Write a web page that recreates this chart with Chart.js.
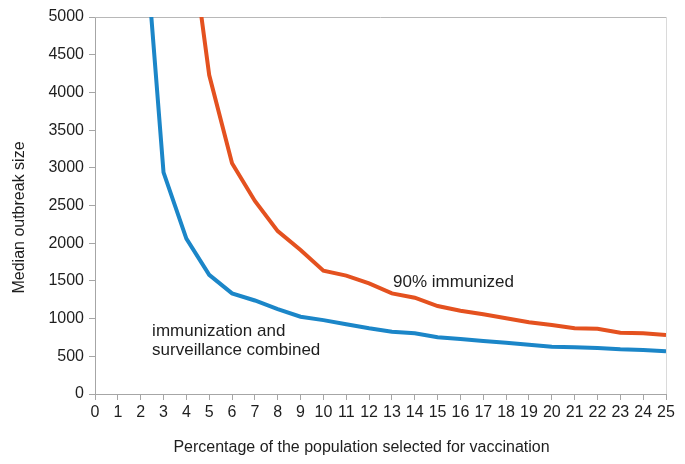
<!DOCTYPE html>
<html>
<head>
<meta charset="utf-8">
<script src="https://cdn.jsdelivr.net/npm/chart.js@4/dist/chart.umd.min.js"></script>
<style>
  html, body { margin: 0; padding: 0; background: #fff; }
  #wrap { width: 685px; height: 464px; }
</style>
</head>
<body>
<div id="wrap"><canvas id="outbreakChart"></canvas></div>
<script>
// Percentage of population selected (x categories)
const pctLabels = ['0','1','2','3','4','5','6','7','8','9','10','11','12','13','14','15','16','17','18','19','20','21','22','23','24','25'];

// Median outbreak size, immunization + surveillance (blue)
const combinedValues = [null, null, 6800, 2940, 2060, 1580, 1335, 1240, 1125, 1025, 980, 925, 871, 826, 805, 752, 729, 703, 680, 654, 627, 619, 610, 593, 584, 566];

// Median outbreak size, 90% immunized (orange)
const immunizedValues = [null, null, null, null, 6500, 4230, 3060, 2560, 2160, 1910, 1636, 1570, 1468, 1335, 1277, 1167, 1105, 1057, 1004, 951, 915, 871, 866, 813, 805, 782];

// Y axis range
const yMin = 0;
const yMax = 5000;
const yStep = 500;

// In-plot labels: [text, x category, y value]
const lineLabels = [
  ['90% immunized', 13.05, 1485],
  ['immunization and', 2.5, 835],
  ['surveillance combined', 2.5, 575]
];

const xTitle = 'Percentage of the population selected for vaccination';
const yTitle = 'Median outbreak size';

const axisGray = '#a6a6a6';
const textColor = '#1e1e1e';
const fontFamily = "'Liberation Sans', Arial, sans-serif";

// Draw the top / right frame of the plot area
const framePlugin = {
  id: 'frame',
  beforeDatasetsDraw(chart) {
    const a = chart.chartArea;
    const c = chart.ctx;
    c.save();
    c.lineWidth = 1;
    c.strokeStyle = '#b8b8b8';
    c.beginPath();
    c.moveTo(a.left, a.top + 0.5);
    c.lineTo(a.right, a.top + 0.5);
    c.stroke();
    c.strokeStyle = '#dadada';
    c.beginPath();
    c.moveTo(a.right + 0.5, a.top);
    c.lineTo(a.right + 0.5, a.bottom);
    c.stroke();
    c.restore();
  }
};

// Text annotations placed through the scales, plus axis titles
const labelPlugin = {
  id: 'lineLabels',
  afterDatasetsDraw(chart) {
    const c = chart.ctx;
    const xs = chart.scales.x;
    const ys = chart.scales.y;
    const a = chart.chartArea;
    c.save();
    c.fillStyle = textColor;
    c.font = '17px ' + fontFamily;
    c.textAlign = 'left';
    c.textBaseline = 'middle';
    lineLabels.forEach(function(l) {
      const i = Math.floor(l[1]);
      const x0 = xs.getPixelForValue(i);
      const x1 = xs.getPixelForValue(i + 1);
      const px = x0 + (x1 - x0) * (l[1] - i);
      c.fillText(l[0], px, ys.getPixelForValue(l[2]));
    });

    // axis titles (Excel places them a little off the plot centre)
    c.font = '16px ' + fontFamily;
    c.textAlign = 'center';
    c.fillText(xTitle, (a.left + a.right) / 2 - 19, chart.height - 16);
    c.translate(20, (a.top + a.bottom) / 2 + 12);
    c.rotate(-Math.PI / 2);
    c.fillText(yTitle, 0, 0);
    c.restore();
  }
};

const ctx = document.getElementById('outbreakChart').getContext('2d');
new Chart(ctx, {
  type: 'line',
  data: {
    labels: pctLabels,
    datasets: [
      {
        label: 'immunization and surveillance combined',
        data: combinedValues,
        borderColor: '#1b86c8',
        borderWidth: 4,
        pointRadius: 0,
        tension: 0,
        clip: 0
      },
      {
        label: '90% immunized',
        data: immunizedValues,
        borderColor: '#e4511f',
        borderWidth: 4,
        pointRadius: 0,
        tension: 0,
        clip: 0
      }
    ]
  },
  options: {
    responsive: true,
    maintainAspectRatio: false,
    animation: false,
    layout: {
      padding: { left: 0, right: 19, top: 17, bottom: 0 }
    },
    plugins: {
      legend: { display: false },
      tooltip: { enabled: false }
    },
    scales: {
      x: {
        offset: false,
        afterFit: function(scale) { scale.height = 70; },
        grid: {
          drawOnChartArea: false,
          color: axisGray,
          tickLength: 6,
          offset: false
        },
        border: { color: axisGray },
        ticks: {
          color: textColor,
          padding: 3,
          maxRotation: 0,
          autoSkip: false,
          font: { size: 16, family: fontFamily }
        }
      },
      y: {
        min: yMin,
        max: yMax,
        afterFit: function(scale) { scale.width = 95; },
        grid: {
          drawOnChartArea: false,
          color: axisGray,
          tickLength: 6
        },
        border: { color: axisGray },
        ticks: {
          stepSize: yStep,
          color: textColor,
          padding: 5,
          font: { size: 16, family: fontFamily },
          callback: function(v) { return String(v); }
        }
      }
    }
  },
  plugins: [framePlugin, labelPlugin]
});
</script>
</body>
</html>
